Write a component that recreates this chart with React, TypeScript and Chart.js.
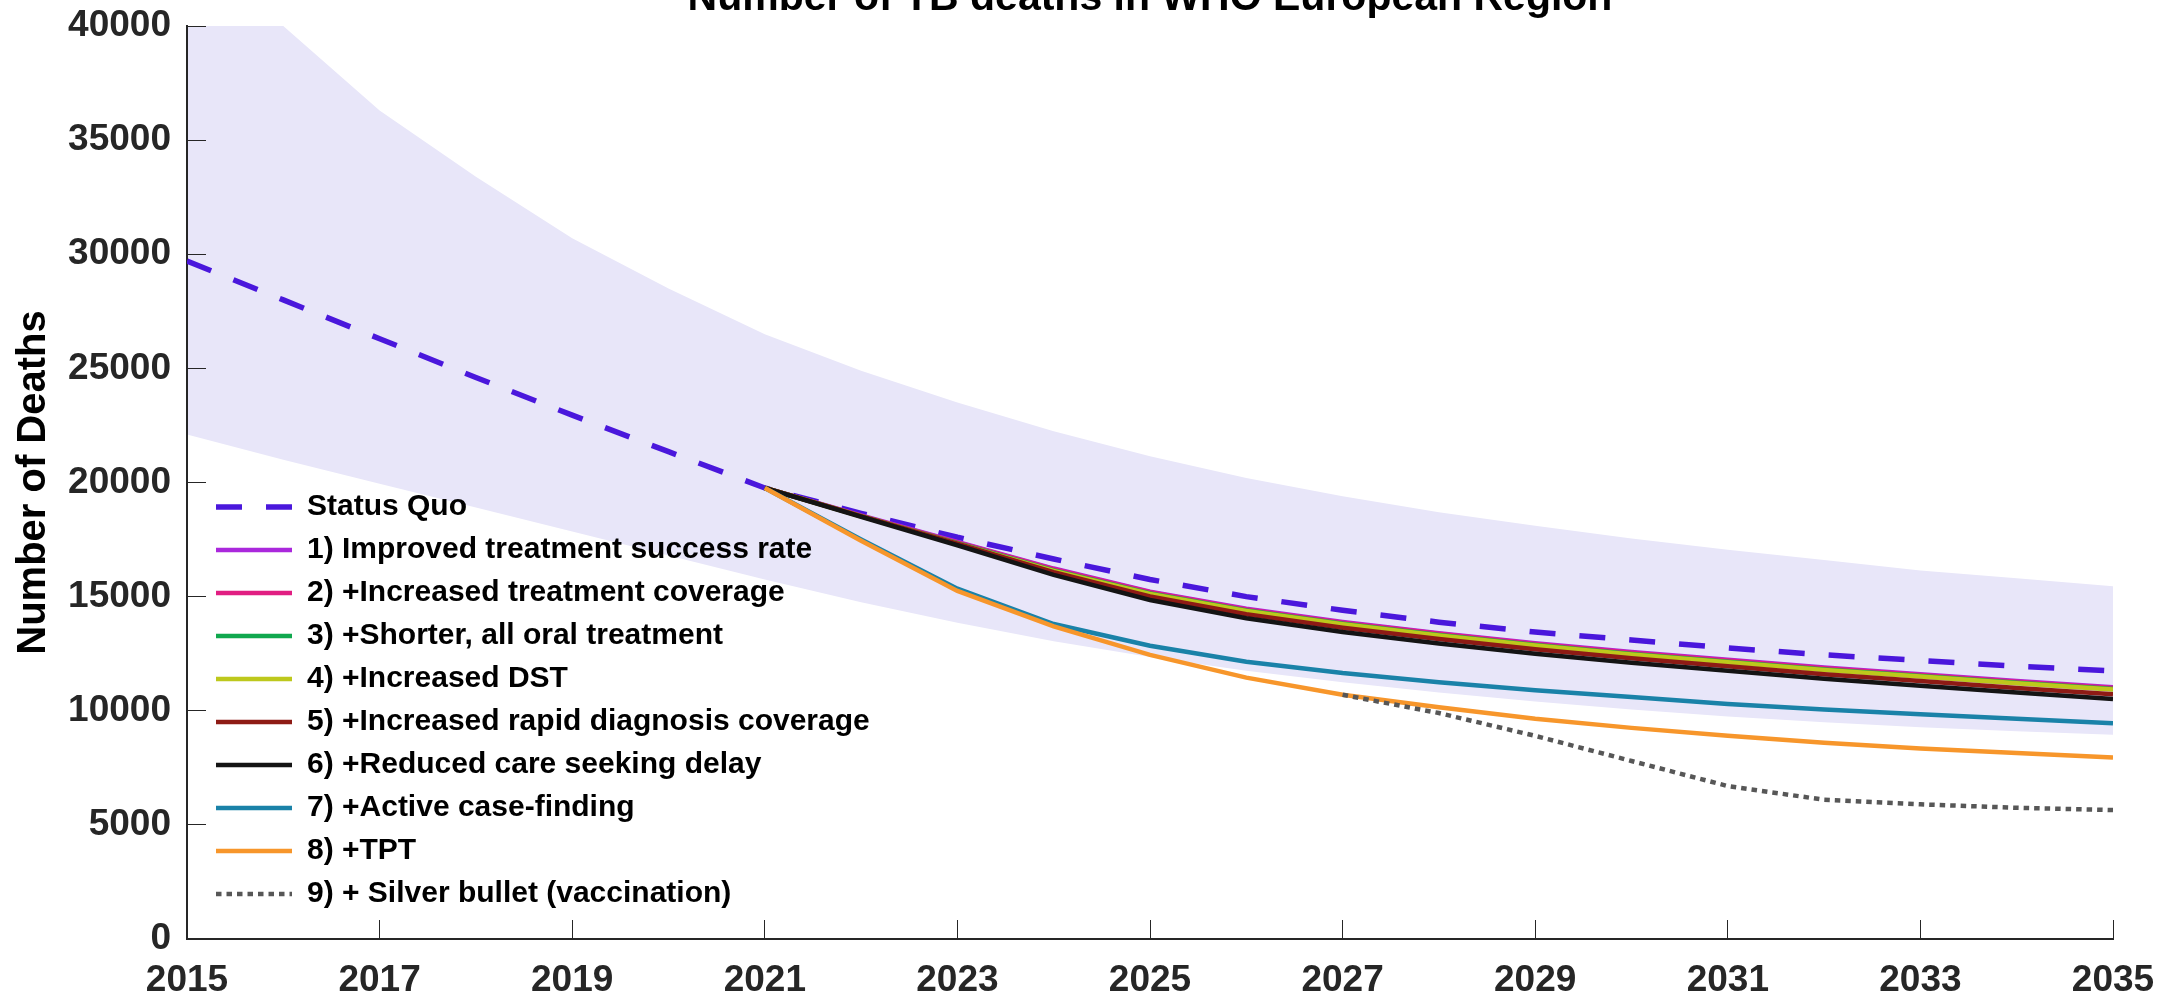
import React, { useEffect, useRef } from 'react';
import { Chart, registerables } from 'chart.js';

Chart.register(...registerables);

// ---------------- data ----------------
const years = [2015, 2016, 2017, 2018, 2019, 2020, 2021, 2022, 2023, 2024, 2025, 2026, 2027, 2028, 2029, 2030, 2031, 2032, 2033, 2034, 2035];
const bandUpper = [44000, 40000, 36300, 33400, 30700, 28500, 26500, 24900, 23500, 22250, 21150, 20200, 19400, 18700, 18100, 17550, 17050, 16600, 16150, 15800, 15450];
const bandLower = [22100, 21000, 19950, 18900, 17850, 16800, 15750, 14750, 13850, 13050, 12350, 11750, 11250, 10800, 10400, 10050, 9750, 9500, 9280, 9100, 8950];
const statusQuo = [29700, 28000, 26300, 24600, 22950, 21350, 19760, 18650, 17600, 16650, 15750, 15000, 14400, 13880, 13450, 13100, 12750, 12450, 12200, 11950, 11750];

const interventionYears = [2021, 2022, 2023, 2024, 2025, 2026, 2027, 2028, 2029, 2030, 2031, 2032, 2033, 2034, 2035];
const improvedSuccess = [19760, 18560, 17400, 16230, 15220, 14470, 13890, 13400, 12960, 12570, 12230, 11890, 11600, 11305, 11030];
const treatmentCoverage = [19760, 18540, 17370, 16200, 15190, 14440, 13860, 13370, 12930, 12540, 12200, 11860, 11570, 11275, 11000];
const shorterOral = [19760, 18530, 17340, 16150, 15140, 14390, 13810, 13320, 12880, 12490, 12150, 11810, 11520, 11225, 10950];
const increasedDST = [19760, 18520, 17320, 16130, 15120, 14370, 13790, 13300, 12860, 12470, 12130, 11790, 11500, 11205, 10930];
const rapidDiagnosis = [19760, 18530, 17320, 16070, 15010, 14230, 13640, 13140, 12695, 12300, 11950, 11600, 11300, 11000, 10720];
const careSeeking = [19760, 18500, 17250, 15950, 14850, 14050, 13450, 12950, 12500, 12100, 11750, 11400, 11100, 10800, 10520];
const activeCaseFinding = [19760, 17500, 15350, 13800, 12850, 12150, 11650, 11250, 10900, 10600, 10300, 10050, 9850, 9650, 9450];
const tpt = [19760, 17450, 15250, 13700, 12450, 11450, 10700, 10150, 9650, 9250, 8900, 8600, 8350, 8150, 7950];

const silverYears = [2027, 2028, 2029, 2030, 2031, 2032, 2033, 2034, 2035];
const silverBullet = [10700, 9900, 8900, 7800, 6700, 6100, 5900, 5750, 5650];

const xTickValues = [2015, 2017, 2019, 2021, 2023, 2025, 2027, 2029, 2031, 2033, 2035];
const yTickValues = [0, 5000, 10000, 15000, 20000, 25000, 30000, 35000, 40000];

const seriesLabels = [
  'Status Quo',
  '1) Improved treatment success rate',
  '2) +Increased treatment coverage',
  '3) +Shorter, all oral treatment',
  '4) +Increased DST',
  '5) +Increased rapid diagnosis coverage',
  '6) +Reduced care seeking delay',
  '7) +Active case-finding',
  '8) +TPT',
  '9) + Silver bullet (vaccination)',
];

// ---------------- styles ----------------
const seriesColors = ['#4a17dc', '#aa28dc', '#e11e82', '#10a84e', '#bdc81c', '#8e1b15', '#141414', '#1a82a8', '#f7962b', '#575757'];
const BAND_COLOR = '#e8e6f9';
const FONT = "'Liberation Sans', Arial, Helvetica, sans-serif";
const AXIS_COLOR = '#262626';

const CANVAS_W = 2159;
const CANVAS_H = 1034;
const CANVAS_TOP = -40;

const placeLegend = {
  id: 'placeLegend',
  afterLayout(chart: any) {
    const lg = chart.legend;
    if (!lg) return;
    const w = lg.width;
    lg.left = 203;
    lg.right = 203 + w;
    lg.top = 519;
    lg.bottom = chart.chartArea.bottom;
  },
};

export default function App() {
  const ref = useRef<HTMLCanvasElement | null>(null);

  useEffect(() => {
    const canvas = ref.current;
    if (!canvas) return;
    const pts = (xs: number[], ys: number[]) => xs.map((x, i) => ({ x, y: ys[i] }));

    const lineSeries = [
      { xs: interventionYears, ys: improvedSuccess },
      { xs: interventionYears, ys: treatmentCoverage },
      { xs: interventionYears, ys: shorterOral },
      { xs: interventionYears, ys: increasedDST },
      { xs: interventionYears, ys: rapidDiagnosis },
      { xs: interventionYears, ys: careSeeking },
      { xs: interventionYears, ys: activeCaseFinding },
      { xs: interventionYears, ys: tpt },
    ];

    const datasets: any[] = [
      {
        label: 'upper',
        data: pts(years, bandUpper),
        borderWidth: 0,
        borderColor: 'rgba(0,0,0,0)',
        backgroundColor: BAND_COLOR,
        fill: '+1',
        pointRadius: 0,
        order: 100,
      },
      {
        label: 'lower',
        data: pts(years, bandLower),
        borderWidth: 0,
        borderColor: 'rgba(0,0,0,0)',
        backgroundColor: BAND_COLOR,
        fill: false,
        pointRadius: 0,
        order: 99,
      },
      {
        label: seriesLabels[0],
        data: pts(years, statusQuo),
        borderColor: seriesColors[0],
        borderWidth: 5.5,
        borderDash: [26, 24],
        fill: false,
        pointRadius: 0,
        order: 50,
      },
      ...lineSeries.map((s, i) => ({
        label: seriesLabels[i + 1],
        data: pts(s.xs, s.ys),
        borderColor: seriesColors[i + 1],
        borderWidth: 4.5,
        fill: false,
        pointRadius: 0,
        order: 20 - i,
      })),
      {
        label: seriesLabels[9],
        data: pts(silverYears, silverBullet),
        borderColor: seriesColors[9],
        borderWidth: 4.5,
        borderDash: [5.5, 5],
        fill: false,
        pointRadius: 0,
        order: 1,
      },
    ];

    const chart = new Chart(canvas, {
      type: 'line',
      data: { datasets },
      plugins: [placeLegend],
      options: {
        responsive: false,
        animation: false,
        events: [],
        devicePixelRatio: 1,
        layout: { padding: { top: 0, left: 0, right: 46, bottom: 0 } },
        elements: { line: { tension: 0 } },
        plugins: {
          filler: { drawTime: 'beforeDraw', propagate: false },
          tooltip: { enabled: false },
          title: {
            display: true,
            text: 'Number of TB deaths in WHO European Region',
            fullSize: false,
            color: '#000',
            font: { family: FONT, size: 41, weight: 'bold' },
            padding: { top: 14, bottom: 2.8 },
          },
          legend: {
            display: true,
            position: 'chartArea',
            align: 'start',
            labels: {
              usePointStyle: true,
              pointStyleWidth: 76,
              boxHeight: 30,
              padding: 13,
              color: '#000',
              font: { family: FONT, size: 30, weight: 'bold' },
              generateLabels: (c: any) =>
                c.data.datasets.slice(2).map((ds: any, i: number) => ({
                  text: ds.label,
                  fillStyle: ds.borderColor,
                  strokeStyle: ds.borderColor,
                  lineWidth: ds.borderWidth,
                  lineDash: ds.borderDash || [],
                  lineCap: 'butt',
                  pointStyle: 'line',
                  hidden: false,
                  datasetIndex: i + 2,
                  fontColor: '#000',
                })),
            },
          },
        },
        scales: {
          x: {
            type: 'linear',
            min: 2015,
            max: 2035,
            afterBuildTicks: (s: any) => {
              s.ticks = xTickValues.map((v) => ({ value: v }));
            },
            afterFit: (s: any) => {
              s.height = 55;
            },
            ticks: {
              callback: (v: any) => String(v),
              font: { family: FONT, size: 37, weight: 'bold', lineHeight: 3.28 },
              color: AXIS_COLOR,
              padding: 0,
              maxRotation: 0,
              autoSkip: false,
            },
            grid: {
              display: true,
              drawOnChartArea: false,
              drawTicks: true,
              tickLength: -19,
              tickColor: AXIS_COLOR,
              tickWidth: 1,
            },
            border: { display: true, color: AXIS_COLOR, width: 2 },
          },
          y: {
            type: 'linear',
            min: 0,
            max: 40000,
            afterBuildTicks: (s: any) => {
              s.ticks = yTickValues.map((v) => ({ value: v }));
            },
            afterFit: (s: any) => {
              s.width = 187;
            },
            ticks: {
              callback: (v: any) => String(v),
              font: { family: FONT, size: 37, weight: 'bold', lineHeight: 0.6 },
              color: AXIS_COLOR,
              padding: 35,
              autoSkip: false,
            },
            grid: {
              display: true,
              drawOnChartArea: false,
              drawTicks: true,
              tickLength: -19,
              tickColor: AXIS_COLOR,
              tickWidth: 1,
            },
            border: { display: true, color: AXIS_COLOR, width: 2 },
            title: {
              display: true,
              text: 'Number of Deaths',
              color: '#000',
              font: { family: FONT, size: 40, weight: 'bold' },
              padding: { top: 10, bottom: 0 },
            },
          },
        },
      } as any,
    });

    return () => chart.destroy();
  }, []);

  return (
    <div
      style={{
        position: 'absolute',
        left: 0,
        top: CANVAS_TOP,
        width: CANVAS_W,
        height: CANVAS_H,
        overflow: 'hidden',
        background: '#fff',
      }}
    >
      <canvas ref={ref} width={CANVAS_W} height={CANVAS_H} style={{ width: CANVAS_W, height: CANVAS_H, display: 'block' }} />
    </div>
  );
}
